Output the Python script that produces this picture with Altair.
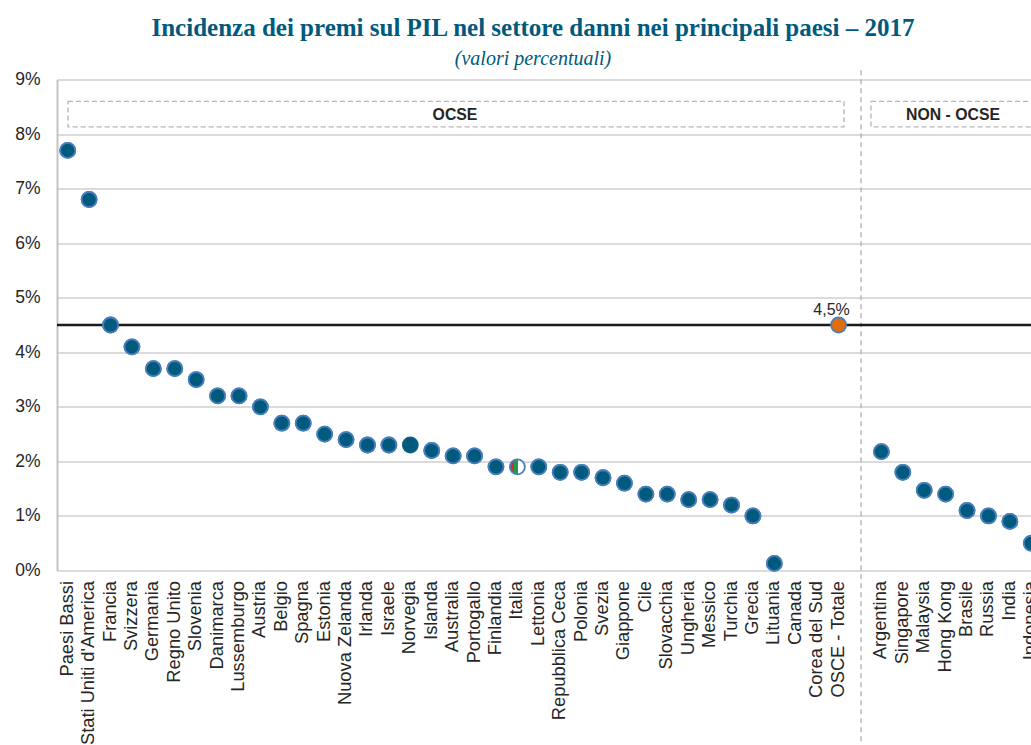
import altair as alt
import pandas as pd

countries = [
    "Paesi Bassi", "Stati Uniti d'America", "Francia", "Svizzera", "Germania", "Regno Unito",
    "Slovenia", "Danimarca", "Lussemburgo", "Austria", "Belgio", "Spagna", "Estonia",
    "Nuova Zelanda", "Irlanda", "Israele", "Norvegia", "Islanda", "Australia", "Portogallo",
    "Finlandia", "Italia", "Lettonia", "Repubblica Ceca", "Polonia", "Svezia", "Giappone",
    "Cile", "Slovacchia", "Ungheria", "Messico", "Turchia", "Grecia", "Lituania", "Canada",
    "Corea del Sud", "OSCE - Totale", " ", "Argentina", "Singapore", "Malaysia", "Hong Kong",
    "Brasile", "Russia", "India", "Indonesia",
]
values = [
    7.7, 6.8, 4.5, 4.1, 3.7, 3.7, 3.5, 3.2, 3.2, 3.0, 2.7, 2.7, 2.5, 2.4, 2.3, 2.3, 2.3,
    2.2, 2.1, 2.1, 1.9, 1.9, 1.9, 1.8, 1.8, 1.7, 1.6, 1.4, 1.4, 1.3, 1.3, 1.2, 1.0, 0.13,
    None, None, 4.5, None, 2.18, 1.8, 1.47, 1.4, 1.1, 1.0, 0.9, 0.5,
]
y_ticks = [0, 1, 2, 3, 4, 5, 6, 7, 8, 9]
oecd_total = 4.5

TEAL = "#005a7d"
EDGE = "#4a7ebb"
GRID = "#cfcfcf"
INK = "#262626"

df = pd.DataFrame({"paese": countries, "valore": values}).dropna()
regular = df[~df["paese"].isin(["Italia", "OSCE - Totale", "Norvegia"])]
norway = df[df["paese"] == "Norvegia"]
italy = df[df["paese"] == "Italia"]
total = df[df["paese"] == "OSCE - Totale"].assign(
    etichetta=lambda d: d["valore"].map(lambda v: f"{v:.1f}%".replace(".", ","))
)

x_enc = alt.X(
    "paese:N",
    sort=None,
    title=None,
    scale=alt.Scale(domain=countries, range=[0, 985], paddingInner=0, paddingOuter=0),
    axis=alt.Axis(
        labelAngle=270, labelAlign="right", labelBaseline="middle", labelPadding=10,
        labelFontSize=18.3, labelFont="Liberation Sans", labelColor=INK, labelOverlap=False,
        ticks=False, domain=False, grid=False, labelLimit=300,
    ),
)
y_enc = alt.Y(
    "valore:Q",
    title=None,
    scale=alt.Scale(domain=[0, 9], nice=False, zero=False),
    axis=alt.Axis(
        values=y_ticks, labelExpr="datum.value + '%'", labelPadding=17, labelFontSize=17.5,
        labelFont="Liberation Sans", labelColor=INK, ticks=False, domain=True,
        domainColor="#c4c4c4", domainWidth=2, grid=True, gridColor=GRID, gridWidth=1.6,
    ),
)

points = alt.Chart(regular).mark_circle(
    size=225, opacity=1, color=TEAL, stroke=EDGE, strokeWidth=1.8
).encode(x=x_enc, y=y_enc)

norway_point = alt.Chart(norway).mark_circle(
    size=225, opacity=1, color=TEAL, stroke="#0f5f7f", strokeWidth=1.8
).encode(x=x_enc, y=y_enc)

italy_fill = alt.Gradient(
    gradient="linear", x1=0, x2=1, y1=0, y2=0,
    stops=[
        alt.GradientStop(color="#c8323c", offset=0),
        alt.GradientStop(color="#c8323c", offset=0.27),
        alt.GradientStop(color="#1f9a4d", offset=0.27),
        alt.GradientStop(color="#1f9a4d", offset=0.57),
        alt.GradientStop(color="#ffffff", offset=0.57),
        alt.GradientStop(color="#ffffff", offset=1),
    ],
)
italy_point = alt.Chart(italy).mark_point(
    shape="circle", filled=True, size=225, opacity=1, fill=italy_fill, stroke=EDGE, strokeWidth=1.8
).encode(x=x_enc, y=y_enc)

total_point = alt.Chart(total).mark_circle(
    size=225, opacity=1, color="#e36c0a", stroke=EDGE, strokeWidth=1.8
).encode(x=x_enc, y=y_enc)

total_label = alt.Chart(total).mark_text(
    font="Liberation Sans", fontSize=16, color=INK, dy=-15, dx=-7
).encode(x=x_enc, y=y_enc, text="etichetta:N")

total_line = alt.Chart(pd.DataFrame({"valore": [oecd_total]})).mark_rule(
    color="#1a1a1a", strokeWidth=2.6
).encode(y=alt.Y("valore:Q"))

# Dashed separator between the two groups, running past the plot on both sides
divider = alt.Chart(pd.DataFrame({"paese": [" "], "alto": [9.17], "basso": [-3.2]})).mark_rule(
    color="#b5b5b5", strokeWidth=1.4, strokeDash=[5, 4]
).encode(
    x=alt.X("paese:N", bandPosition=0.55),
    y=alt.Y("alto:Q"),
    y2=alt.Y2("basso:Q"),
)

# Group header boxes
header_box = alt.Chart(pd.DataFrame({"alto": [8.6], "basso": [8.13]}))
ocse_box = header_box.mark_rect(
    fill="#ffffff", stroke="#b5b5b5", strokeWidth=1.3, strokeDash=[5, 3]
).encode(x=alt.value(11), x2=alt.value(787), y=alt.Y("alto:Q"), y2=alt.Y2("basso:Q"))
non_ocse_box = header_box.mark_rect(
    fill="#ffffff", stroke="#b5b5b5", strokeWidth=1.3, strokeDash=[5, 3]
).encode(x=alt.value(814), x2=alt.value(985), y=alt.Y("alto:Q"), y2=alt.Y2("basso:Q"))

header_text = alt.Chart(pd.DataFrame({"gruppo": ["OCSE", "NON - OCSE"], "valore": [8.35, 8.35]}))
ocse_text = header_text.transform_filter("datum.gruppo == 'OCSE'").mark_text(
    font="Liberation Sans", fontSize=15.8, fontWeight="bold", color=INK
).encode(x=alt.value(398), y=alt.Y("valore:Q"), text="gruppo:N")
non_ocse_text = header_text.transform_filter("datum.gruppo != 'OCSE'").mark_text(
    font="Liberation Sans", fontSize=15.8, fontWeight="bold", color=INK
).encode(x=alt.value(896), y=alt.Y("valore:Q"), text="gruppo:N")

chart = alt.layer(
    points, ocse_box, non_ocse_box, ocse_text, non_ocse_text, divider, total_line,
    points, norway_point, italy_point, total_point, total_label,
).properties(
    width=974,
    height=491,
    autosize=alt.AutoSizeParams(type="none"),
    padding={"left": 57, "top": 79.5, "right": 0, "bottom": 174.5},
    title=alt.TitleParams(
        text="Incidenza dei premi sul PIL nel settore danni nei principali paesi – 2017",
        subtitle="(valori percentuali)",
        anchor="middle",
        dx=-11,
        offset=1,
        font="Liberation Serif",
        fontSize=25,
        fontWeight="bold",
        color=TEAL,
        subtitleFont="Liberation Serif",
        subtitleFontSize=20,
        subtitleFontStyle="italic",
        subtitleColor=TEAL,
        subtitlePadding=8,
    ),
).configure_view(stroke=None)

chart.save("out.html", embed_options={"renderer": "svg", "actions": False})
